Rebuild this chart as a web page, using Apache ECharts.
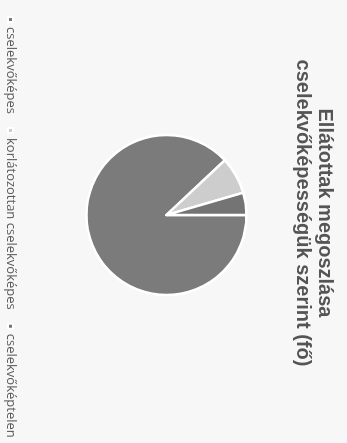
<!DOCTYPE html>
<html>
<head>
<meta charset="utf-8">
<script src="https://cdn.jsdelivr.net/npm/echarts@6/dist/echarts.min.js"></script>
<style>
html,body{margin:0;padding:0;background:#f7f7f7;overflow:hidden;width:347px;height:443px;}
#chart{position:absolute;left:0;top:0;width:443px;height:347px;transform-origin:0 0;transform:translate(347px,0) rotate(90deg);}
</style>
</head>
<body>
<div id="chart"></div>
<script>
var categories = ['cselekvőképes', 'korlátozottan cselekvőképes', 'cselekvőképtelen'];
var values = [176, 15, 9];
var colors = ['#7b7b7b', '#cdcdcd', '#747474'];
var titleLines = ['Ellátottak megoszlása', 'cselekvőképességük szerint (fő)'];

var chart = echarts.init(document.getElementById('chart'), null, {renderer: 'canvas'});
chart.setOption({
  backgroundColor: '#f7f7f7',
  animation: false,
  title: {
    text: titleLines.join('\n'),
    left: 208,
    textAlign: 'center',
    top: 6,
    textStyle: {fontFamily: 'Liberation Sans', fontSize: 20, fontWeight: 'bold', color: '#555555', lineHeight: 22}
  },
  legend: {
    data: categories,
    orient: 'horizontal',
    left: 11,
    top: 325,
    width: 600,
    itemWidth: 5,
    itemHeight: 5,
    itemGap: 13,
    icon: 'rect',
    textStyle: {fontFamily: 'Open Sans', fontSize: 13, color: '#5a5a5a'}
  },
  series: [{
    type: 'pie',
    center: [215, 180.5],
    radius: [0, 80],
    startAngle: 90,
    clockwise: true,
    label: {show: false},
    labelLine: {show: false},
    itemStyle: {borderColor: '#ffffff', borderWidth: 2.5},
    data: categories.map(function (c, i) {
      return {name: c, value: values[i], itemStyle: {color: colors[i]}};
    })
  }]
});
</script>
</body>
</html>
